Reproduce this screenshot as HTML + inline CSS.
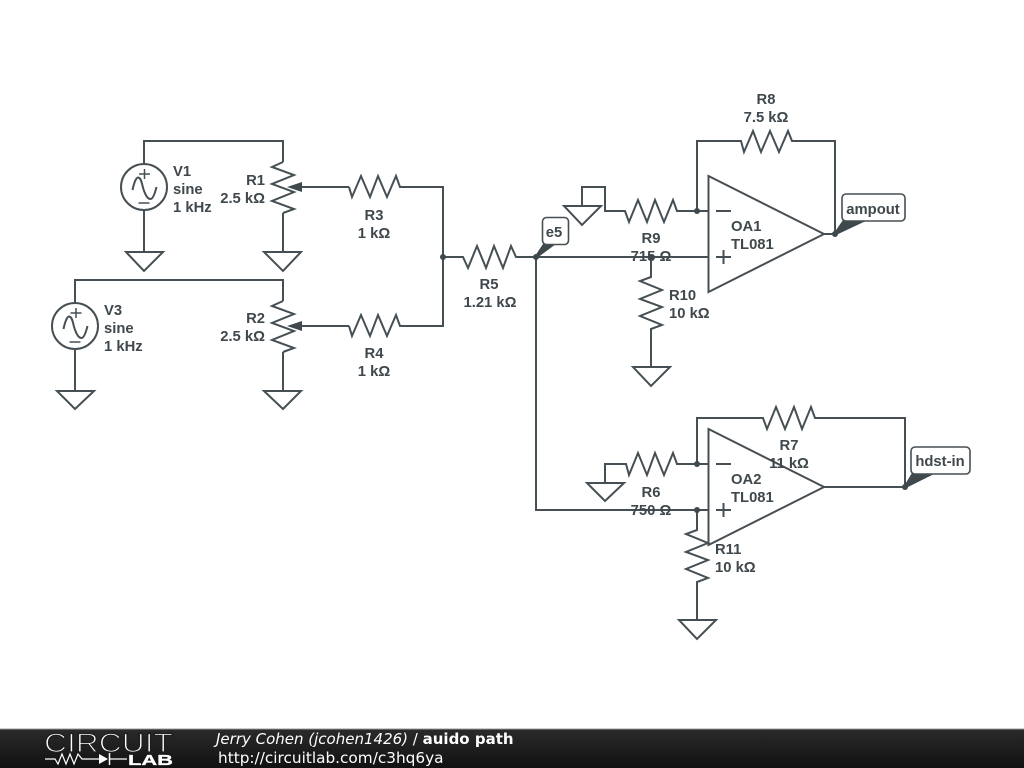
<!DOCTYPE html>
<html><head><meta charset="utf-8">
<style>
html,body{margin:0;padding:0;background:#fff;width:1024px;height:768px;overflow:hidden}
svg{display:block;filter:blur(0.3px)}
.w{fill:none;stroke:#464f53;stroke-width:2;stroke-linejoin:miter}
.t{font-family:"Liberation Sans",sans-serif;font-weight:bold;font-size:14.8px;fill:#3f484c}
.m{text-anchor:middle}.r{text-anchor:end}
</style></head><body>
<svg width="1024" height="768" viewBox="0 0 1024 768" xmlns="http://www.w3.org/2000/svg">
<defs><linearGradient id="g" x1="0" y1="0" x2="0" y2="1"><stop offset="0" stop-color="#2a2a2a"/><stop offset="1" stop-color="#111"/></linearGradient></defs>
<rect width="1024" height="768" fill="#fff"/>

<!-- wires -->
<g class="w">
<path d="M144 164V141H283V162M283 213V252M144 210V252"/>
<path d="M75 303V280H283V301M283 352V391M75 349V391"/>
<path d="M126 252H163L144 271Z"/><path d="M264 252H301L283 271Z"/>
<path d="M57 391H94L75 409Z"/><path d="M264 391H301L283 409Z"/>
<circle cx="144" cy="187" r="23"/><circle cx="75" cy="326" r="23"/>
<g stroke-width="1.500">
<path d="M144.500 169V179M139 174H150M138.500 203H149.500"/>
<path d="M76 308V318M70.500 313H81.500M69.500 342H80.500"/>
</g>
<path d="M132.500 190C134 183 136 177.500 138 177.500C142 177.500 142 187 144.500 192C146 196 148 199 150.500 199C153 199 155 193 156.500 187"/>
<path d="M63.500 329C65 322 67 316.500 69 316.500C73 316.500 73 326 75.500 331C77 335 79 338 81.500 338C84 338 86 332 87.500 326"/>
<!-- R1 R2 -->
<path d="M283 162L272 167 294 175 272 184 294 192 272 201 294 209 283 213"/>
<path d="M283 301L272 306 294 314 272 323 294 331 272 340 294 348 283 352"/>
<path d="M298 187H349M298 326H349"/>
<path d="M349 187L352 197 361 176 370 197 378 176 387 197 396 176 400 187H443V326H400L396 315 387 336 378 315 370 336 361 315 352 336 349 326"/>
<path d="M443 257H463L468 268 477 246 486 268 494 246 503 268 511 246 516 257H708"/>
<path d="M536 257V510H708"/>
<!-- R9 -->
<path d="M582 206V187H605V211H625L629 222 638 200 647 222 655 200 664 222 673 200 677 211H708"/>
<path d="M564 206H601L582 225Z"/>
<!-- R10 -->
<path d="M651 257V277L640 281 662 290 640 299 662 307 640 316 662 325 651 329V367"/>
<path d="M633 367H670L651 386Z"/>
<!-- OA1 -->
<path d="M708.500 176V292L824 234Z"/>
<path d="M716 211H731M716 257H731M723.500 250V264"/>
<path d="M824 234H835V141H792L788 131 779 152 770 131 761 152 753 131 744 152 741 141H697V211"/>
<!-- OA2 -->
<path d="M708.500 429V545L824 487Z"/>
<path d="M716 464H731M716 510H731M723.500 503V517"/>
<path d="M824 487H905V418H815L811 407 802 429 794 407 785 429 776 407 767 429 763 418H697V464"/>
<path d="M708 464H677L673 453 664 475 655 453 647 475 638 453 629 475 626 464H605V483"/>
<path d="M587 483H624L605 501Z"/>
<!-- R11 -->
<path d="M697 510V530L686 534 708 543 686 552 708 560 686 569 708 578 697 582V620"/>
<path d="M679 620H716L697 639Z"/>
</g>

<!-- wiper arrows -->
<g fill="#3f484c">
<path d="M287 187L302 182V192Z"/><path d="M287 326L302 321V331Z"/>
<circle cx="443" cy="257" r="3"/><circle cx="536" cy="257" r="3"/><circle cx="651" cy="257" r="3"/>
<circle cx="697" cy="211" r="3"/><circle cx="835" cy="234" r="3"/>
<circle cx="697" cy="464" r="3"/><circle cx="697" cy="510" r="3"/><circle cx="905" cy="487" r="3"/>
<!-- tails -->
<path d="M535 256L543 244H556L537 258Z"/>
<path d="M834 233L843 220H868L836 235Z"/>
<path d="M904 486L912 473H936L906 488Z"/>
</g>

<!-- flags -->
<g fill="#fff" stroke="#464f53" stroke-width="1.600">
<rect x="542.500" y="217.500" width="26" height="27" rx="4"/>
<rect x="842" y="194" width="63" height="27" rx="4"/>
<rect x="911" y="447" width="59" height="27" rx="4"/>
</g>
<g class="t">
<text x="554" y="237" class="m">e5</text>
<text x="873" y="214" class="m">ampout</text>
<text x="940" y="466" class="m">hdst-in</text>

<text x="173" y="176">V1</text><text x="173" y="194">sine</text><text x="173" y="212">1 kHz</text>
<text x="104" y="315">V3</text><text x="104" y="333">sine</text><text x="104" y="351">1 kHz</text>
<text x="265" y="185" class="r">R1</text><text x="265" y="203" class="r">2.5 kΩ</text>
<text x="265" y="323" class="r">R2</text><text x="265" y="341" class="r">2.5 kΩ</text>
<text x="374" y="220" class="m">R3</text><text x="374" y="238" class="m">1 kΩ</text>
<text x="374" y="358" class="m">R4</text><text x="374" y="376" class="m">1 kΩ</text>
<text x="489" y="289" class="m">R5</text><text x="490" y="307" class="m">1.21 kΩ</text>
<text x="651" y="243" class="m">R9</text><text x="651" y="261" class="m">715 Ω</text>
<text x="669" y="300">R10</text><text x="669" y="318">10 kΩ</text>
<text x="766" y="104" class="m">R8</text><text x="766" y="122" class="m">7.5 kΩ</text>
<text x="731" y="231">OA1</text><text x="731" y="249">TL081</text>
<text x="789" y="450" class="m">R7</text><text x="789" y="468" class="m">11 kΩ</text>
<text x="651" y="497" class="m">R6</text><text x="651" y="515" class="m">750 Ω</text>
<text x="731" y="484">OA2</text><text x="731" y="502">TL081</text>
<text x="715" y="554">R11</text><text x="715" y="572">10 kΩ</text>
</g>

<!-- footer -->
<rect x="0" y="729" width="1024" height="39" fill="url(#g)"/>
<rect x="0" y="728.500" width="1024" height="1" fill="#999"/>
<text x="44" y="752" font-family="Liberation Sans,sans-serif" font-size="26.500" fill="#fff" stroke="#1f1f1f" stroke-width="1.300" textLength="129" lengthAdjust="spacingAndGlyphs">CIRCUIT</text>
<text x="128" y="765" font-family="Liberation Sans,sans-serif" font-weight="bold" font-size="15" fill="#fff" stroke="#fff" stroke-width="0.300" textLength="45" lengthAdjust="spacingAndGlyphs">LAB</text>
<path d="M45 759H55L58 764 62 754 66 764 70 754 74 764 78 754 82 759H99M110 759H127" fill="none" stroke="#fff" stroke-width="1.200"/>
<path d="M99 754V764L108 759Z" fill="#fff"/><path d="M109.500 753V765" stroke="#fff" stroke-width="1.500"/>
<text x="216" y="744" font-family="DejaVu Sans,sans-serif" font-size="15" font-style="italic" fill="#fff">Jerry Cohen (jcohen1426) <tspan font-style="normal">/</tspan> <tspan font-style="normal" font-weight="bold">auido path</tspan></text>
<text x="218" y="763" font-family="DejaVu Sans,sans-serif" font-size="15.300" fill="#fff">http://circuitlab.com/c3hq6ya</text>
</svg>
</body></html>
